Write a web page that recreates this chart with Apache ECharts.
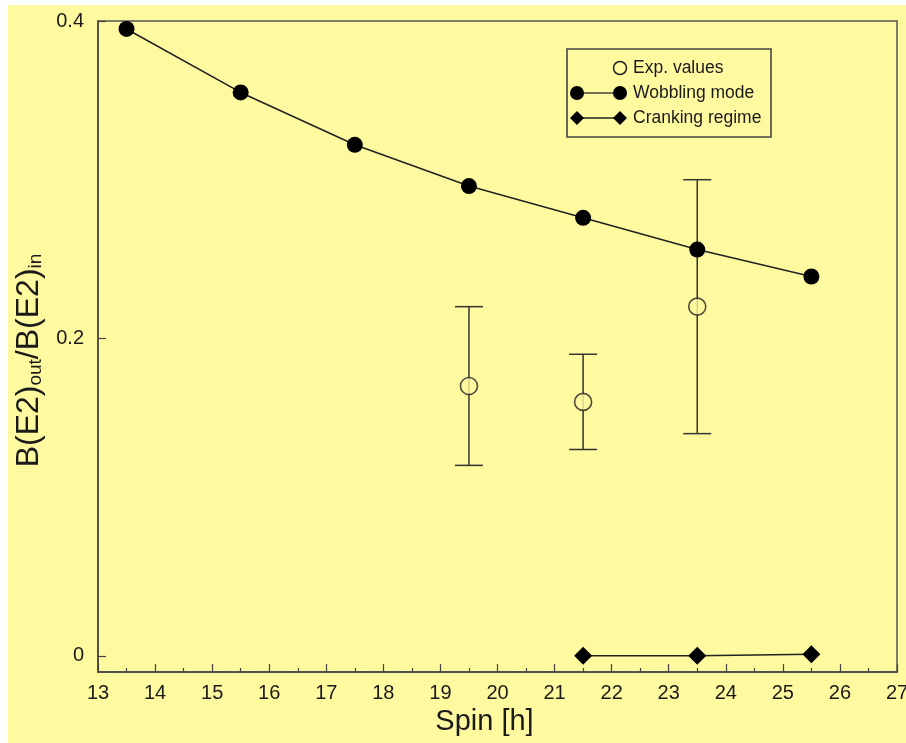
<!DOCTYPE html>
<html><head><meta charset="utf-8">
<script src="https://cdn.jsdelivr.net/npm/echarts@6/dist/echarts.min.js"></script>
<style>html,body{margin:0;padding:0;background:#fff;}#c{position:absolute;left:8px;top:5px;width:898px;height:738px;background:#fff9a0;}</style>
</head><body><div id="c"></div>
<script>
const spins = [13.5, 15.5, 17.5, 19.5, 21.5, 23.5, 25.5];
const wobbling = [0.395, 0.355, 0.322, 0.296, 0.276, 0.256, 0.239];
const expSpins = [19.5, 21.5, 23.5];
const expValues = [0.170, 0.160, 0.220];
const expLow = [0.120, 0.130, 0.140];
const expHigh = [0.220, 0.190, 0.300];
const crankSpins = [21.5, 23.5, 25.5];
const cranking = [0.000, 0.000, 0.001];
const xTicks = [13,14,15,16,17,18,19,20,21,22,23,24,25,26,27];
const yTicks = [0, 0.2, 0.4];

const ink = '#1a1a1a';
const chart = echarts.init(document.getElementById('c'), null, {renderer:'canvas'});
const font = 'Liberation Sans, Arial, sans-serif';

const option = {
  animation:false,
  backgroundColor:'#fff9a0',
  grid:{left:90, right:9, top:16, bottom:71, show:true, borderColor:'#555', borderWidth:1.5,
    backgroundColor:'transparent', outerBoundsMode:'none', containLabel:false},
  xAxis:{type:'value', min:13, max:27, interval:1,
    name:'Spin [h]', nameLocation:'middle', nameGap:35,
    nameTextStyle:{fontFamily:font, fontSize:29, color:ink, padding:[0,26,0,0]},
    axisLine:{onZero:false, lineStyle:{color:'#444', width:1.5}},
    axisTick:{inside:true, length:8, lineStyle:{color:'#444', width:1.2}},
    minorTick:{show:true, splitNumber:2, length:4, lineStyle:{color:'#444', width:1.2}},
    axisLabel:{fontFamily:font, fontSize:20, color:ink, margin:11, customValues:xTicks},
    splitLine:{show:false}},
  yAxis:{type:'value', min:-0.0102, max:0.4,
    name:'{m|B(E2)}{s|out}{m|/B(E2)}{s|in}', nameLocation:'middle', nameGap:46, nameRotate:90,
    nameTextStyle:{fontFamily:font, color:ink, padding:[0,28,0,0],
      rich:{m:{fontFamily:font, fontSize:32, color:ink, verticalAlign:'bottom', lineHeight:34},
            s:{fontFamily:font, fontSize:19, color:ink, verticalAlign:'bottom', lineHeight:25}}},
    axisLine:{onZero:false, lineStyle:{color:'#444', width:1.5}},
    axisTick:{inside:true, length:8, customValues:yTicks, lineStyle:{color:'#444', width:1.2}},
    axisLabel:{fontFamily:font, fontSize:20, color:ink, margin:14, customValues:yTicks,
      formatter:v=> v===0?'0':String(v)},
    splitLine:{show:false}},
  series:[
    {type:'custom', name:'err', z:2,
      data: expSpins.map((s,i)=>[s, expLow[i], expHigh[i]]),
      renderItem:(params, api)=>{
        const lo = api.coord([api.value(0), api.value(1)]);
        const hi = api.coord([api.value(0), api.value(2)]);
        const cw = 14;
        const st = {stroke:'#333', lineWidth:1.5};
        return {type:'group', children:[
          {type:'line', shape:{x1:lo[0], y1:lo[1], x2:hi[0], y2:hi[1]}, style:st},
          {type:'line', shape:{x1:lo[0]-cw, y1:lo[1], x2:lo[0]+cw, y2:lo[1]}, style:st},
          {type:'line', shape:{x1:hi[0]-cw, y1:hi[1], x2:hi[0]+cw, y2:hi[1]}, style:st}
        ]};
      }},
    {type:'scatter', name:'Exp. values', z:3, symbol:'circle', symbolSize:17,
      data: expSpins.map((s,i)=>[s, expValues[i]]),
      itemStyle:{color:'#fff9a0', borderColor:'#222', borderWidth:1.6}},
    {type:'line', name:'Wobbling mode', z:4, symbol:'circle', symbolSize:16,
      data: spins.map((s,i)=>[s, wobbling[i]]),
      lineStyle:{color:'#222', width:1.6}, itemStyle:{color:'#000'}},
    {type:'line', name:'Cranking regime', z:4, symbol:'diamond', symbolSize:[18,18],
      data: crankSpins.map((s,i)=>[s, cranking[i]]),
      lineStyle:{color:'#222', width:1.6}, itemStyle:{color:'#000'}}
  ],
  graphic:[
    {type:'rect', shape:{x:559, y:44, width:204, height:88}, style:{fill:'transparent', stroke:'#444', lineWidth:1.6}},
    {type:'circle', shape:{cx:612, cy:63, r:6.5}, style:{fill:'transparent', stroke:'#222', lineWidth:1.5}},
    {type:'text', x:625, y:63, style:{text:'Exp. values', font:'17.5px '+font, fill:ink, textVerticalAlign:'middle'}},
    {type:'line', shape:{x1:569, y1:88, x2:612, y2:88}, style:{stroke:'#444', lineWidth:1.6}},
    {type:'circle', shape:{cx:569, cy:88, r:7}, style:{fill:'#000'}},
    {type:'circle', shape:{cx:612, cy:88, r:7}, style:{fill:'#000'}},
    {type:'text', x:625, y:88, style:{text:'Wobbling mode', font:'17.5px '+font, fill:ink, textVerticalAlign:'middle'}},
    {type:'line', shape:{x1:569, y1:113, x2:612, y2:113}, style:{stroke:'#222', lineWidth:1.6}},
    {type:'polygon', shape:{points:[[569,106],[576,113],[569,120],[562,113]]}, style:{fill:'#000'}},
    {type:'polygon', shape:{points:[[612,106],[619,113],[612,120],[605,113]]}, style:{fill:'#000'}},
    {type:'text', x:625, y:113, style:{text:'Cranking regime', font:'17.5px '+font, fill:ink, textVerticalAlign:'middle'}}
  ]
};
chart.setOption(option);
</script></body></html>
